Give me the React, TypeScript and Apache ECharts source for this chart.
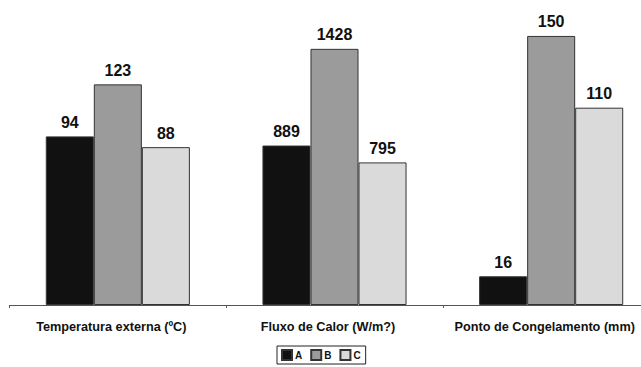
import React, { useEffect, useRef } from "react";
import * as echarts from "echarts";

const categories = ["Temperatura externa (ºC)", "Fluxo de Calor (W/m?)", "Ponto de Congelamento (mm)"];
const seriesNames = ["A", "B", "C"];
const valuesA = [94, 889, 16];
const valuesB = [123, 1428, 150];
const valuesC = [88, 795, 110];
// display scale per category (Fluxo de Calor drawn at 1/10)
const categoryScale = [1, 0.1, 1];
const colors = ["#111111", "#9b9b9b", "#dadada"];

export default function App() {
  const ref = useRef<HTMLDivElement>(null);
  useEffect(() => {
    if (!ref.current) return;
    const chart = echarts.init(ref.current, undefined, { renderer: "svg" });
    const all = [valuesA, valuesB, valuesC];
    chart.setOption({
      animation: false,
      backgroundColor: "#ffffff",
      textStyle: { fontFamily: "Liberation Sans, Arial, sans-serif" },
      grid: { left: 9.5, top: 18, bottom: 62, right: 0.5, containLabel: false },
      legend: {
        data: seriesNames,
        bottom: 3,
        left: 277,
        orient: "horizontal",
        itemWidth: 10,
        itemHeight: 10,
        itemGap: 8,
        icon: "rect",
        borderColor: "#222",
        borderWidth: 1,
        padding: [3, 5, 3, 4],
        textStyle: { fontSize: 10, fontWeight: "bold", color: "#111", padding: [0, 0, 0, -2] },
      },
      xAxis: {
        type: "category",
        data: categories,
        axisLine: { lineStyle: { color: "#555", width: 1 } },
        axisTick: { show: true, length: 3, lineStyle: { color: "#555" } },
        axisLabel: {
          interval: 0,
          margin: 15,
          fontSize: 12.7,
          fontWeight: "bold",
          color: "#111",
          padding: [0, 13, 0, 0],
        },
      },
      yAxis: {
        type: "value",
        min: 0,
        max: 160,
        show: false,
        splitLine: { show: false },
      },
      series: all.map((vals, si) => ({
        name: seriesNames[si],
        type: "bar",
        barGap: "0%",
        barCategoryGap: "33.5%",
        itemStyle: { color: colors[si], borderColor: "#333", borderWidth: 1 },
        label: {
          show: true,
          position: "top",
          distance: 6,
          fontSize: 16,
          fontWeight: "bold",
          color: "#111",
          formatter: (p: any) => String(p.data.raw),
        },
        data: vals.map((v, i) => ({ value: v * categoryScale[i], raw: v })),
      })),
    });
    return () => chart.dispose();
  }, []);
  return (
    <div style={{ position: "fixed", left: 0, top: 0, width: 641, height: 367, overflow: "hidden", background: "#fff" }}>
      <div ref={ref} style={{ width: 660, height: 367 }} />
    </div>
  );
}
